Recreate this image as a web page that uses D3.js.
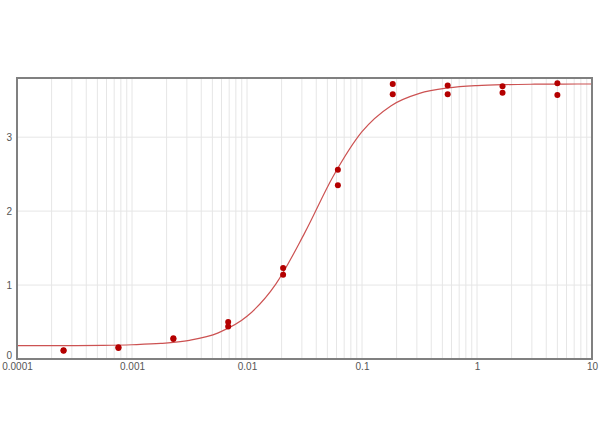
<!DOCTYPE html>
<html>
<head>
<meta charset="utf-8">
<script src="https://cdn.jsdelivr.net/npm/d3@7"></script>
<style>
  body { margin: 0; background: #fff; }
  svg { display: block; font-family: "Liberation Sans", Arial, sans-serif; }
</style>
</head>
<body>
<svg id="chart"></svg>
<script>
// concentrations (3-fold dilutions) and the two replicate readings
var conc = [0.000254, 0.000762, 0.00229, 0.00686, 0.0206, 0.0617, 0.185, 0.556, 1.667, 5];
var rep1 = [0.12, 0.15, 0.28, 0.50, 1.23, 2.56, 3.72, 3.70, 3.69, 3.73];
var rep2 = [0.11, 0.16, 0.27, 0.44, 1.14, 2.35, 3.58, 3.58, 3.60, 3.57];

// fitted curve at log steps
var fitX = [0.0001, 0.000178, 0.000316, 0.000562, 0.001, 0.00178, 0.00316, 0.00562, 0.01, 0.0178, 0.0316,
            0.0562, 0.1, 0.178, 0.316, 0.562, 1, 1.78, 3.16, 5.62, 10];
var fitY = [0.180, 0.181, 0.182, 0.185, 0.193, 0.210, 0.253, 0.354, 0.577, 1.013, 1.699,
            2.471, 3.074, 3.423, 3.592, 3.666, 3.698, 3.711, 3.716, 3.718, 3.719];

var xTicks = [0.0001, 0.001, 0.01, 0.1, 1, 10];
var xTickLabels = ["0.0001", "0.001", "0.01", "0.1", "1", "10"];
var yTicks = [0, 1, 2, 3];

var svgWidth = 600, svgHeight = 447;
var plot = { left: 17, right: 592, top: 78, bottom: 359 };

var svg = d3.select("#chart")
  .attr("width", svgWidth)
  .attr("height", svgHeight);

var x = d3.scaleLog().domain([0.0001, 10]).range([plot.left, plot.right]);
var y = d3.scaleLinear().domain([0, 3.8]).range([plot.bottom, plot.top]);

// vertical grid: every minor step of each decade
var minor = x.ticks().filter(function(d) { return d > 0.0001 && d < 10; });
svg.append("g")
  .selectAll("line")
  .data(minor)
  .enter().append("line")
    .attr("x1", function(d) { return x(d); })
    .attr("x2", function(d) { return x(d); })
    .attr("y1", plot.top)
    .attr("y2", plot.bottom)
    .attr("stroke", "#e6e6e6")
    .attr("stroke-width", 1);

// horizontal grid
svg.append("g")
  .selectAll("line")
  .data(yTicks.filter(function(d) { return d > 0; }))
  .enter().append("line")
    .attr("x1", plot.left)
    .attr("x2", plot.right)
    .attr("y1", function(d) { return y(d); })
    .attr("y2", function(d) { return y(d); })
    .attr("stroke", "#e6e6e6")
    .attr("stroke-width", 1);

// fitted curve
var line = d3.line()
  .x(function(d, i) { return x(fitX[i]); })
  .y(function(d) { return y(d); })
  .curve(d3.curveMonotoneX);

svg.append("path")
  .datum(fitY)
  .attr("d", line)
  .attr("fill", "none")
  .attr("stroke", "#cc5252")
  .attr("stroke-width", 1.2);

// replicate points
var pts = [];
conc.forEach(function(c, i) {
  pts.push({ x: c, y: rep1[i] });
  pts.push({ x: c, y: rep2[i] });
});

svg.append("g")
  .selectAll("circle")
  .data(pts)
  .enter().append("circle")
    .attr("cx", function(d) { return x(d.x); })
    .attr("cy", function(d) { return y(d.y); })
    .attr("r", 3)
    .attr("fill", "#b40000");

// plot frame
svg.append("rect")
  .attr("x", plot.left)
  .attr("y", plot.top)
  .attr("width", plot.right - plot.left)
  .attr("height", plot.bottom - plot.top)
  .attr("fill", "none")
  .attr("stroke", "#808080")
  .attr("stroke-width", 2);

// axes
var xAxis = d3.axisBottom(x)
  .tickValues(xTicks)
  .tickFormat(function(d, i) { return xTickLabels[i]; })
  .tickSize(0)
  .tickPadding(4);

svg.append("g")
  .attr("transform", "translate(0," + plot.bottom + ")")
  .call(xAxis)
  .call(function(g) { g.select(".domain").remove(); })
  .selectAll("text")
    .attr("fill", "#555")
    .style("font-size", "10px");

var yAxis = d3.axisLeft(y)
  .tickValues(yTicks)
  .tickFormat(d3.format("d"))
  .tickSize(0)
  .tickPadding(5);

svg.append("g")
  .attr("transform", "translate(" + plot.left + ",0)")
  .call(yAxis)
  .call(function(g) { g.select(".domain").remove(); })
  .selectAll("text")
    .attr("fill", "#555")
    .style("font-size", "10px")
    // the zero sits just above the first x label
    .attr("dy", function(d) { return d === 0 ? "-0.05em" : "0.32em"; });
</script>
</body>
</html>
